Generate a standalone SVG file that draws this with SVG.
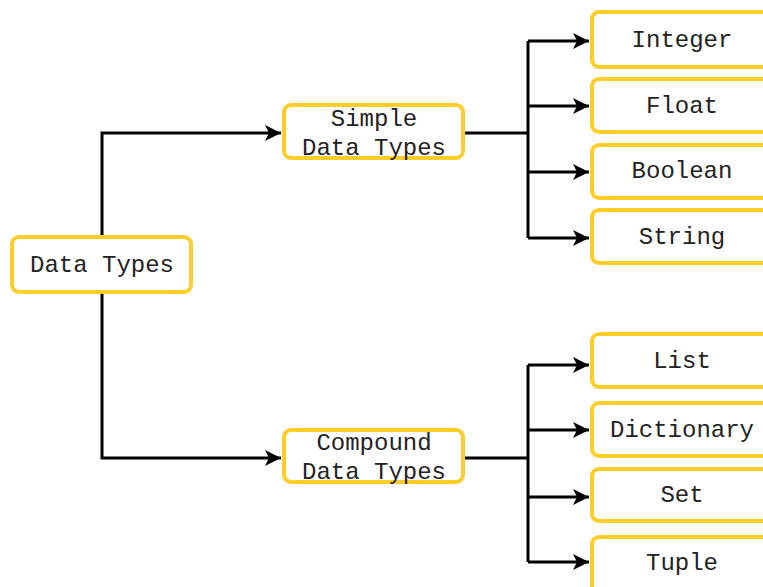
<svg xmlns="http://www.w3.org/2000/svg" width="763" height="587" viewBox="0 0 763 587">
<style>
.box{fill:#fff;stroke:#FFCD28;stroke-width:4}
.t{font-family:"Liberation Mono","Courier New",monospace;font-size:24px;fill:#222;text-anchor:middle;dominant-baseline:central}
.c{fill:none;stroke:#000;stroke-width:3}
</style>
<defs>
<marker id="arr" viewBox="0 0 18 18" refX="17" refY="9" markerWidth="18" markerHeight="18" markerUnits="userSpaceOnUse" orient="auto">
<path d="M1,1 L17,9 L1,17 L5,9 z" fill="#000"/>
</marker>
</defs>
<rect width="763" height="587" fill="#fff"/>
<g id="connectors">
<path class="c" d="M102,237 V133 H281" marker-end="url(#arr)"/>
<path class="c" d="M102,293 V458 H281" marker-end="url(#arr)"/>
<path class="c" d="M464,133 H528"/>
<path class="c" d="M528,41 V238"/>
<path class="c" d="M528,41 H589" marker-end="url(#arr)"/>
<path class="c" d="M528,106 H589" marker-end="url(#arr)"/>
<path class="c" d="M528,172 H589" marker-end="url(#arr)"/>
<path class="c" d="M528,238 H589" marker-end="url(#arr)"/>
<path class="c" d="M464,458 H528"/>
<path class="c" d="M528,365 V562"/>
<path class="c" d="M528,365 H589" marker-end="url(#arr)"/>
<path class="c" d="M528,430 H589" marker-end="url(#arr)"/>
<path class="c" d="M528,497 H589" marker-end="url(#arr)"/>
<path class="c" d="M528,562 H589" marker-end="url(#arr)"/>
</g>
<g id="data-types"><rect class="box" x="12" y="237" width="179" height="55" rx="7"/><text class="t" x="102" y="265">Data Types</text></g>
<g id="simple"><rect class="box" x="284" y="105" width="179" height="53" rx="7"/><text class="t" x="374" y="119">Simple</text><text class="t" x="374" y="148">Data Types</text></g>
<g id="compound"><rect class="box" x="284" y="430" width="179" height="52" rx="7"/><text class="t" x="374" y="443">Compound</text><text class="t" x="374" y="472">Data Types</text></g>
<g id="integer"><rect class="box" x="592" y="12" width="180" height="55" rx="7"/><text class="t" x="682" y="40">Integer</text></g>
<g id="float"><rect class="box" x="592" y="79" width="180" height="53" rx="7"/><text class="t" x="682" y="106">Float</text></g>
<g id="boolean"><rect class="box" x="592" y="145" width="180" height="53" rx="7"/><text class="t" x="682" y="171">Boolean</text></g>
<g id="string"><rect class="box" x="592" y="210" width="180" height="53" rx="7"/><text class="t" x="682" y="237">String</text></g>
<g id="list"><rect class="box" x="592" y="334" width="180" height="53" rx="7"/><text class="t" x="682" y="361">List</text></g>
<g id="dictionary"><rect class="box" x="592" y="403" width="180" height="53" rx="7"/><text class="t" x="682" y="430">Dictionary</text></g>
<g id="set"><rect class="box" x="592" y="469" width="180" height="52" rx="7"/><text class="t" x="682" y="495">Set</text></g>
<g id="tuple"><rect class="box" x="592" y="537" width="180" height="56" rx="7"/><text class="t" x="682" y="563">Tuple</text></g>
</svg>
